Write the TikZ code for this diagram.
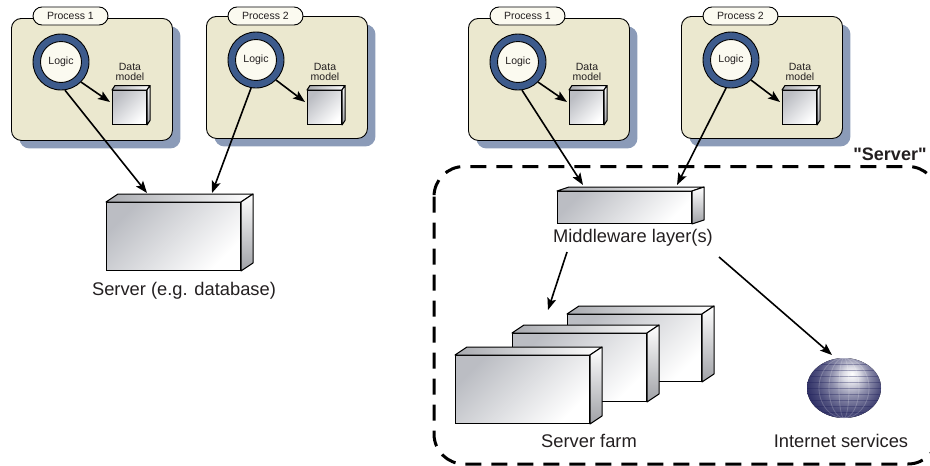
\documentclass[tikz,border=0pt]{standalone}
\usepackage{fontspec}
\setmainfont{Liberation Sans}
\newfontfamily\wordfont{Liberation Sans}
\usetikzlibrary{arrows.meta, calc, shadows, shapes.misc, shapes.geometric}

\definecolor{panelcream}{HTML}{EBE8CF}
\definecolor{shadowblue}{HTML}{8B9BB8}
\definecolor{ringblue}{HTML}{3D5B8C}
\definecolor{tagwhite}{HTML}{FBFAF0}
\definecolor{boxdark}{HTML}{BBBDC3}
\definecolor{globenavy}{HTML}{1C1D58}
\definecolor{inktext}{HTML}{231F20}

\pgfdeclareradialshading{globeball}{\pgfpoint{5bp}{9bp}}{
  color(0bp)=(white);
  color(5bp)=(white!85!globenavy);
  color(12bp)=(globenavy!50!white);
  color(20bp)=(globenavy!78!white);
  color(30bp)=(globenavy);
  color(50bp)=(globenavy)
}

\tikzset{
  panel/.style={draw=black, fill=panelcream, rounded corners=10pt, line width=0.9pt,
    minimum width=161pt, minimum height=122pt, inner sep=0pt,
    drop shadow={shadow xshift=8pt, shadow yshift=-8pt, fill=shadowblue, opacity=1}},
  tag/.style={rounded rectangle, draw=black, fill=tagwhite, line width=0.9pt,
    minimum width=75pt, minimum height=18pt, inner sep=0pt, font=\fontsize{10.5}{12}\selectfont, text=inktext},
  ring/.style={circle, draw=black, fill=ringblue, line width=0.9pt, minimum size=56pt, inner sep=0pt},
  logic/.style={circle, draw=black, fill=tagwhite, line width=0.9pt, minimum size=41pt, inner sep=0pt,
    font=\fontsize{10.5}{12}\selectfont, text=inktext},
  small/.style={align=center, inner sep=0pt, font=\fontsize{10.5}{10.5}\selectfont, text=inktext},
  caption/.style={inner sep=0pt, font=\fontsize{18.3}{22}\selectfont, text=inktext},
  front/.style={draw=black, line width=1pt, anchor=north west, inner sep=0pt,
    left color=boxdark, right color=white, shading angle=45},
  topface/.style={draw=black, line width=1pt, line join=round, left color=boxdark!90!black, right color=white},
  sideface/.style={draw=black, line width=1pt, line join=round, top color=white, bottom color=boxdark!85!black},
  link/.style={-{Stealth[length=12pt, width=9pt, inset=2.5pt]}, line width=1.6pt},
}

% name, x, y, width, height, depth x, depth y
\newcommand{\serverbox}[7]{
  \node[front, minimum width=#4pt, minimum height=#5pt] (#1) at (#2,#3) {};
  \draw[topface] (#1.north west) -- ++(#6,-#7) -- ($(#1.north east)+(#6,-#7)$) -- (#1.north east) -- cycle;
  \draw[sideface] (#1.north east) -- ++(#6,-#7) -- ($(#1.south east)+(#6,-#7)$) -- (#1.south east) -- cycle;
}

% suffix, x of the panel, y of the panel, number
\newcommand{\processpanel}[4]{
  \node[panel, anchor=north west] (panel#1) at (#2,#3) {};
  \node[tag] (tag#1) at (#2+59.5,16) {Process #4};
  \node[ring] (ring#1) at (#2+50,#3+44) {};
  \node[logic] (logic#1) at (ring#1) {Logic};
  \node[small] (label#1) at (#2+119,72) {Data\\model};
  \serverbox{cube#1}{#2+101}{90}{34}{34}{3}{4.5}
  \coordinate (cubein#1) at ($(cube#1.north west)+(-2,12)$);
  \draw[link] (ring#1.-45) -- (cubein#1);
}

\begin{document}
\begin{tikzpicture}[x=1pt, y=-1pt]
  \useasboundingbox (0,0) rectangle (930,466);

  \processpanel{a}{11}{18}{1}
  \processpanel{b}{206}{16}{2}
  \processpanel{c}{468}{18}{1}
  \processpanel{d}{681}{16}{2}

  \begin{scope}
    \clip (0,0) rectangle (930,466);
    \draw[black, line width=3pt, dash pattern=on 16pt off 10pt, rounded corners=30pt]
      (434,166.5) rectangle (938,464);
  \end{scope}
  \node[inner sep=0pt, font=\fontsize{18}{20}\selectfont\wordfont\bfseries, text=inktext] (serverword) at (890,154) {"Server"};

  \serverbox{server}{106}{202}{134}{68}{12}{8}
  \node[caption] (servercap) at (184,291) {Server (e.g. database)};

  \serverbox{middle}{557}{191}{134}{32}{12}{4}
  \node[caption] (middlecap) at (633,238) {Middleware layer(s)};

  \serverbox{farmc}{567}{314}{134}{67}{12}{8}
  \serverbox{farmb}{512}{333}{134}{68}{12}{8}
  \serverbox{farma}{455}{355}{134}{68}{12}{8}
  \node[caption] (farmcap) at (589,441) {Server farm};

  \node[ellipse, minimum width=76pt, minimum height=60pt, inner sep=0pt] (globe) at (844,388) {};
  \begin{scope}
    \clip (844,388) ellipse [x radius=37, y radius=30];
    \fill[shading=globeball] (804,348) rectangle (884,428);
    \foreach \gy in {-24,-18,...,24}
      \draw[globenavy, opacity=0.35, line width=1pt] (806,388+\gy) -- (882,388+\gy);
    \foreach \gx in {5,15,25}{
      \draw[white, opacity=0.2, line width=0.8pt] (844,388) ellipse [x radius=\gx, y radius=30];
    }
  \end{scope}
  \node[caption] (globecap) at (841,441) {Internet services};

  \coordinate (serverina) at (147,193);
  \coordinate (serverinb) at (212,193);
  \coordinate (middleinc) at (583,185);
  \coordinate (middleind) at (677,185);
  \coordinate (middleouta) at (567,252);
  \coordinate (middleoutb) at (719,257);
  \coordinate (farmin) at (548,310);
  \coordinate (globein) at (832,355);

  \draw[link] (ringa.-82) -- (serverina);
  \draw[link] (ringb.-100) -- (serverinb);
  \draw[link] (ringc.-82) -- (middleinc);
  \draw[link] (ringd.-100) -- (middleind);
  \draw[link] (middleouta) -- (farmin);
  \draw[link] (middleoutb) -- (globein);
\end{tikzpicture}
\end{document}
